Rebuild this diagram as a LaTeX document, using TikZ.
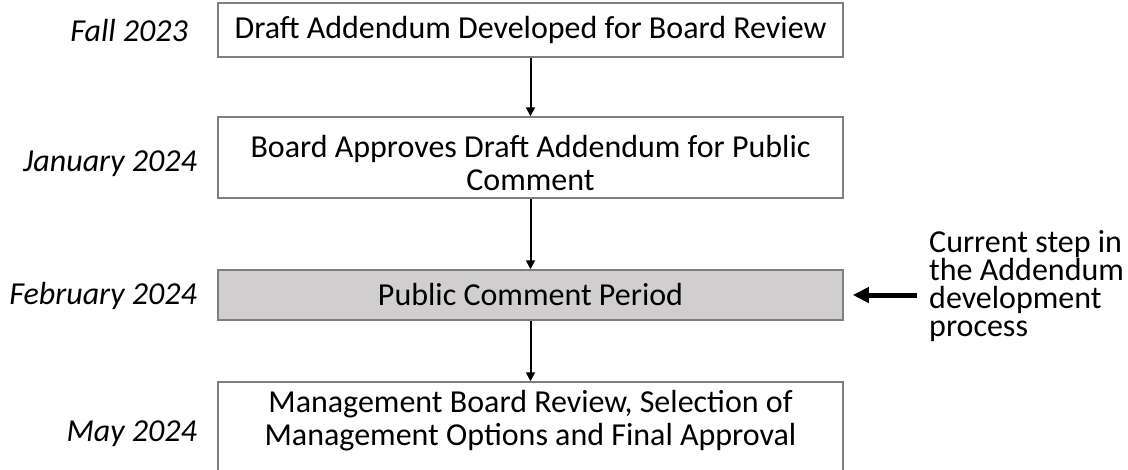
\documentclass[tikz,border=0pt]{standalone}
\usepackage{fontspec}
\setmainfont{Carlito}
\usetikzlibrary{arrows.meta}
\definecolor{boxline}{HTML}{7F7F7F}
\definecolor{boxfill}{HTML}{D0CECE}
\tikzset{
  stepbox/.style={draw=boxline, line width=1.5pt, fill=white, minimum width=625pt, inner sep=0pt, align=center, font=\fontsize{32}{33}\selectfont},
  current/.style={stepbox, fill=boxfill},
  datelabel/.style={anchor=east, inner sep=0pt, font=\fontsize{32}{33}\selectfont\itshape},
  plaintext/.style={inner sep=0pt, align=center, font=\fontsize{32}{33}\selectfont},
  note/.style={anchor=west, inner sep=0pt, align=left, font=\fontsize{32}{27.8}\selectfont},
  flow/.style={-{Triangle[length=9pt,width=9pt]}, line width=2pt, black},
  pointer/.style={-{Triangle[length=16pt,width=15pt]}, line width=5pt, black},
}
\begin{document}
\begin{tikzpicture}[x=1pt,y=-1pt]
\useasboundingbox (0,0) rectangle (1128,469);
\node[stepbox, minimum height=54pt] (b1) at (530.5,30) {Draft Addendum Developed for Board Review};
\node[stepbox, minimum height=81pt] (b2) at (530.5,157.5) {};
\node[plaintext] (b2t) at (530.5,163) {Board Approves Draft Addendum for Public\\Comment};
\node[current, minimum height=50pt] (b3) at (530.5,295) {Public Comment Period};
\node[stepbox, minimum height=100pt] (b4) at (530.5,432) {};
\node[plaintext] (b4t) at (530.5,421) {Management Board Review, Selection of\\Management Options and Final Approval};

\node[datelabel] (d1) at (188,30) {Fall 2023};
\node[datelabel] (d2) at (197,164) {January 2024};
\node[datelabel] (d3) at (197,296) {February 2024};
\node[datelabel] (d4) at (197,434) {May 2024};

\node[note] (n) at (929,286) {Current step in\\the Addendum\\development\\process};
\coordinate (ptail) at (917,295);

\draw[flow] (b1) -- (b2);
\draw[flow] (b2) -- (b3);
\draw[flow] (b3) -- (b4);
\draw[pointer, shorten >=9pt] (ptail) -- (b3.east);
\end{tikzpicture}
\end{document}
